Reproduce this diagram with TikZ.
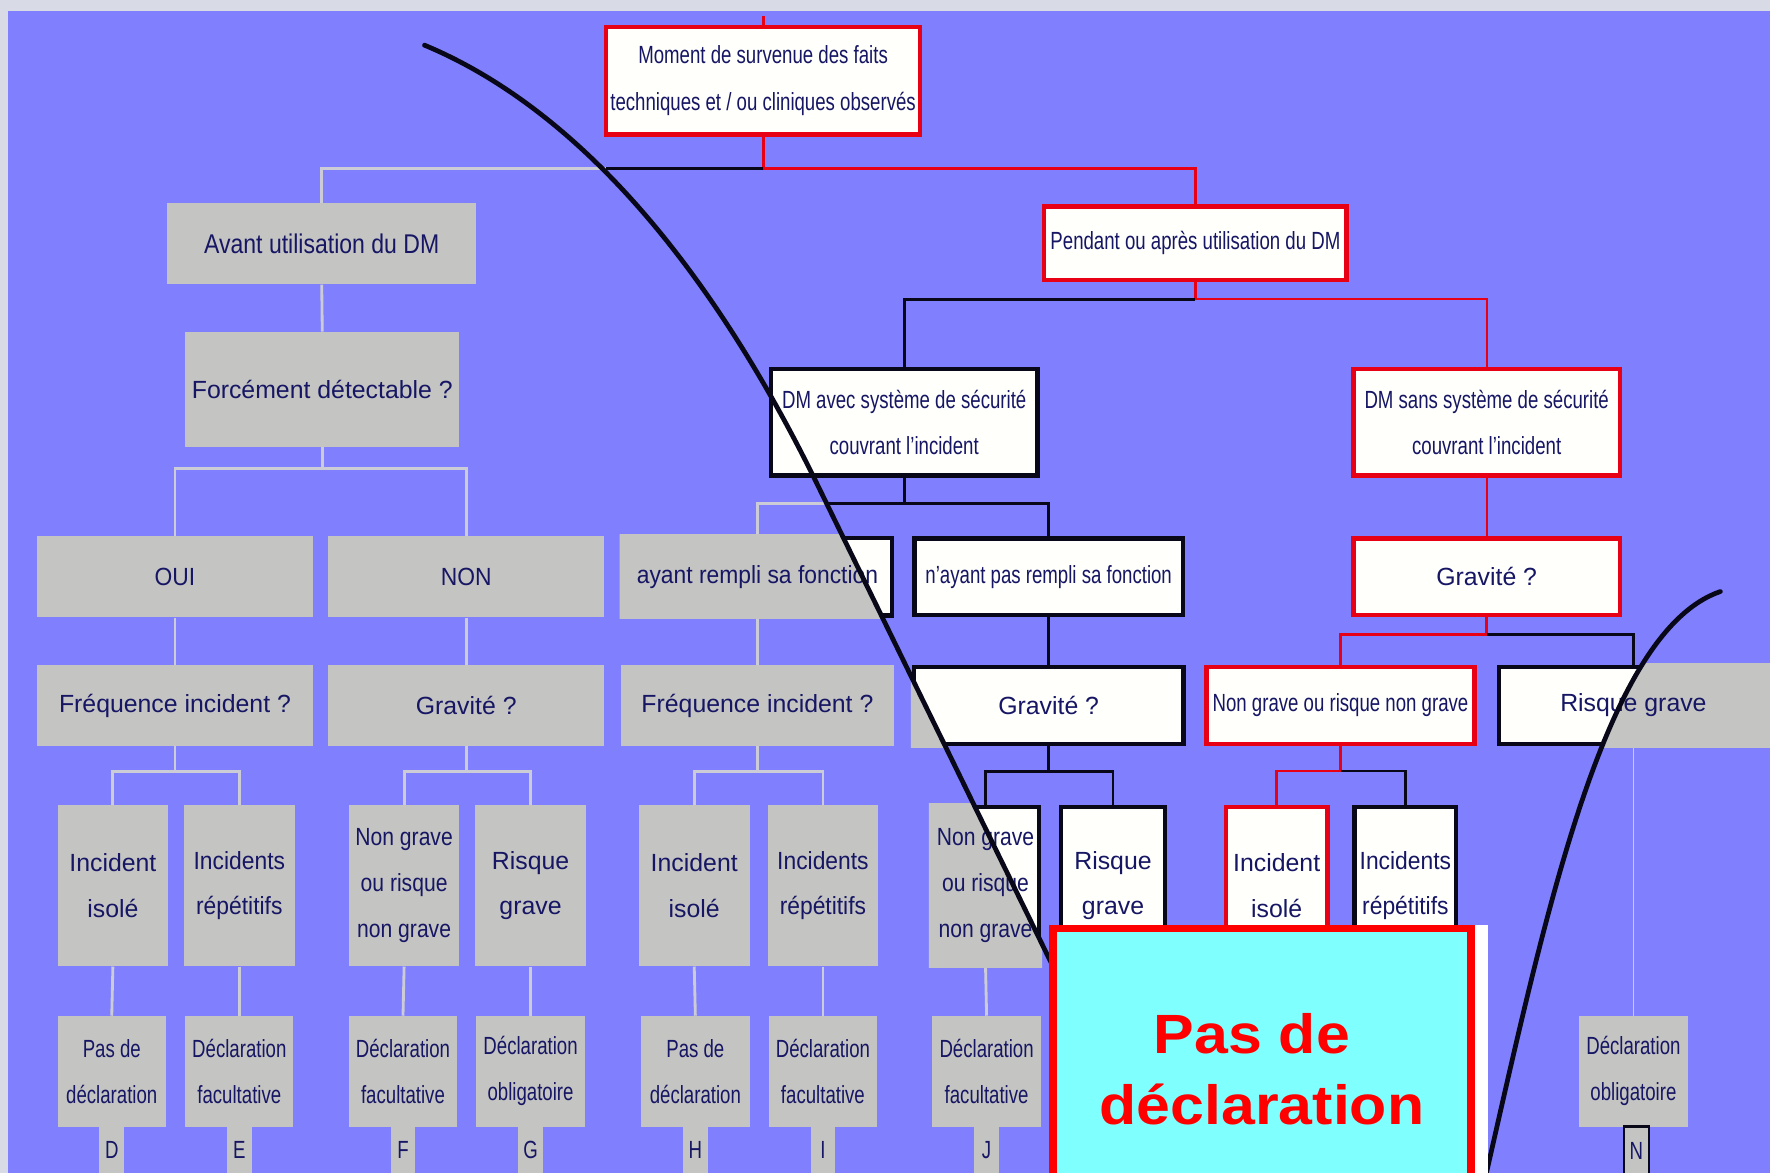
\documentclass[tikz,border=0pt]{standalone}
\usepackage{fontspec}
\setmainfont{Liberation Sans}
\newfontfamily\condA[FakeStretch=0.75]{Liberation Sans}
\newfontfamily\condB[FakeStretch=0.85]{Liberation Sans}
\newfontfamily\condC[FakeStretch=0.92]{Liberation Sans}
\newfontfamily\wideBold[FakeStretch=1.1]{Liberation Sans}
\usetikzlibrary{calc}

\definecolor{bgpurple}{RGB}{128,128,255}
\definecolor{framegray}{RGB}{216,219,230}
\definecolor{framelight}{RGB}{242,242,246}
\definecolor{boxgray}{RGB}{196,196,194}
\definecolor{linegray}{RGB}{204,204,214}
\definecolor{navy}{RGB}{22,22,100}
\definecolor{alertred}{RGB}{232,0,20}
\definecolor{inkblack}{RGB}{8,8,24}
\definecolor{aqua}{RGB}{128,255,255}
\definecolor{paper}{RGB}{255,255,252}

\pgfdeclarelayer{bg}
\pgfdeclarelayer{shapes}
\pgfdeclarelayer{curve}
\pgfdeclarelayer{top}
\pgfsetlayers{bg,shapes,main,curve,top}

% grey region on the left of the dividing curve
\newcommand\leftmask{\fill[boxgray] (376,-20) -- (376,40) .. controls (520,100) and (636,250) .. (722,425) -- (1030,1055) -- (-20,1055) -- (-20,-20) -- cycle;}
% grey region on the right of the dividing curve
\newcommand\rightmask{\fill[boxgray] (1312,1060) .. controls (1368,815) and (1420,560) .. (1524,524) -- (1600,524) -- (1600,1060) -- cycle;}
% white box with black border, greyed where the curve cuts it
\newcommand\maskedbox[2]{%
  \fill[paper] (#1.north west) rectangle (#1.south east);
  \draw[inkblack, line width=4pt] (#1.north west) rectangle (#1.south east);
  \begin{scope}
    \clip ([shift={(-3,-3)}]#1.north west) rectangle ([shift={(3,3)}]#1.south east);
    #2
  \end{scope}}

\begin{document}
\begin{tikzpicture}[x=1pt, y=-1pt,
  base/.style={inner sep=0pt, text=navy, align=center},
  fA/.style={font=\condA\fontsize{22}{40.5}\selectfont},
  fB/.style={font=\condB\fontsize{22}{40.5}\selectfont},
  fC/.style={font=\condC\fontsize{22}{40.5}\selectfont},
  fR/.style={font=\fontsize{22}{40.5}\selectfont},
  gbox/.style={base, fill=boxgray},
  kbox/.style={base, fill=paper, draw=inkblack, line width=4pt},
  rbox/.style={base, fill=paper, draw=alertred, line width=4pt},
  tbox/.style={base},
  sz/.style 2 args={minimum width=#1, minimum height=#2},
  letter/.style={gbox, fA, minimum width=22, minimum height=44},
  gline/.style={draw=linegray, line width=2.5pt},
  kline/.style={draw=inkblack, line width=2.5pt},
  rline/.style={draw=alertred, line width=2.5pt},
  curveline/.style={draw=inkblack, line width=4.2pt, line cap=round},
]
\useasboundingbox (0,0) rectangle (1568,1039);

\begin{pgfonlayer}{bg}
  \shade[left color=framegray, middle color=framelight, right color=framegray] (0,0) rectangle (1568,1039);
  \fill[bgpurple] (7,10) rectangle (1568,1039);
\end{pgfonlayer}

% ---------- top levels
\node[rbox, sz={278}{95}, font=\condA\fontsize{22}{42}\selectfont] (moment) at (676,71.5)
  {Moment de survenue des faits\\techniques et / ou cliniques observés};
\node[gbox, sz={274}{72}, font=\condB\fontsize{24}{40}\selectfont] (avant) at (285,216) {Avant utilisation du DM};
\node[rbox, fA, sz={268}{65}] (pendant) at (1059,215.5) {Pendant ou après utilisation du DM};

% ---------- branch: before use
\node[gbox, fR, sz={243}{102}] (forc) at (285.5,345) {Forcément détectable ?};
\node[gbox, fC, sz={244}{72}] (oui) at (155,511) {OUI};
\node[gbox, fC, sz={244}{72}] (non) at (413,511) {NON};
\node[gbox, fR, sz={244}{72}] (freqL) at (155,625) {Fréquence incident ?};
\node[gbox, fR, sz={244}{72}] (gravL) at (413,625) {Gravité ?};
\node[gbox, fR, sz={98}{143}] (incL1) at (100,784.5) {Incident\\isolé};
\node[gbox, fC, sz={98}{143}] (incL2) at (212,784.5) {Incidents\\répétitifs};
\node[gbox, fB, sz={98}{143}] (ngL) at (358,784.5) {Non grave\\ou risque\\non grave};
\node[gbox, fR, sz={98}{143}] (rgL) at (470,784.5) {Risque\\grave};
\node[gbox, fA, sz={96}{98}] (pasL) at (99,949) {Pas de\\déclaration};
\node[gbox, fA, sz={96}{98}] (facL) at (212,949) {Déclaration\\facultative};
\node[gbox, fA, sz={96}{98}] (facF) at (357,949) {Déclaration\\facultative};
\node[gbox, fA, sz={96}{98}] (oblG) at (470,949) {Déclaration\\obligatoire};

% ---------- branch: with safety system
\node[kbox, fA, sz={236}{94}] (dmavec) at (801,374) {DM avec système de sécurité\\couvrant l’incident};
\node[tbox, fC, sz={238}{68}] (ayant) at (671,511) {ayant rempli sa fonction};
\node[kbox, fA, sz={238}{68}] (nayant) at (929,511) {n’ayant pas rempli sa fonction};
\node[gbox, fR, sz={242}{72}] (freqM) at (671,625) {Fréquence incident ?};
\node[tbox, fR, sz={238}{68}] (gravM) at (929,625) {Gravité ?};
\node[gbox, fR, sz={98}{143}] (incM1) at (615,784.5) {Incident\\isolé};
\node[gbox, fC, sz={98}{143}] (incM2) at (729,784.5) {Incidents\\répétitifs};
\node[tbox, fB, sz={94}{139}] (ngM) at (873,784.5) {Non grave\\ou risque\\non grave};
\node[kbox, fR, sz={92}{139}] (rgM) at (986,784.5) {Risque\\grave};
\node[gbox, fA, sz={96}{98}] (pasM) at (616,949) {Pas de\\déclaration};
\node[gbox, fA, sz={96}{98}] (facM) at (729,949) {Déclaration\\facultative};
\node[gbox, fA, sz={96}{98}] (facJ) at (874,949) {Déclaration\\facultative};

% ---------- branch: without safety system
\node[rbox, fA, sz={236}{94}] (dmsans) at (1317,374) {DM sans système de sécurité\\couvrant l’incident};
\node[rbox, fR, sz={236}{68}] (gravR) at (1317,511) {Gravité ?};
\node[rbox, fA, sz={237}{68}] (ngR) at (1187.5,625) {Non grave ou risque non grave};
\node[tbox, fR, sz={238}{68}] (rgR) at (1447,625) {Risque grave};
\node[rbox, fR, sz={90}{139}] (incR1) at (1131,784.5) {Incident\\isolé};
\node[kbox, fC, sz={90}{139}] (incR2) at (1245,784.5) {Incidents\\répétitifs};
\node[gbox, fA, sz={96}{98}] (oblN) at (1447,949) {Déclaration\\obligatoire};

% ---------- outcome letters
\node[letter] (lD) at (99,1019) {D};
\node[letter] (lE) at (212,1019) {E};
\node[letter] (lF) at (357,1019) {F};
\node[letter] (lG) at (470,1019) {G};
\node[letter] (lH) at (616,1019) {H};
\node[letter] (lI) at (729,1019) {I};
\node[letter] (lJ) at (874,1019) {J};
\node[letter, draw=inkblack, line width=2pt, minimum width=22] (lN) at (1449.5,1020) {N};

% ---------- connectors and cut boxes
\begin{pgfonlayer}{shapes}
  \draw[rline] (moment.north) -- ++(0,-8);
  \draw[rline] (moment.south) -- ++(0,28) coordinate (j0);
  \coordinate (cut0) at (537,149);
  \draw[rline] (j0) -| (pendant.north);
  \draw[kline] (j0) -- (cut0);
  \draw[gline] (cut0) -| (avant.north);

  \draw[gline] (avant.south) -- (forc.north);
  \draw[gline] (forc.south) -- ++(0,19) coordinate (j1);
  \draw[gline] (oui.north) |- (j1) -| (non.north);
  \draw[gline] (oui.south) -- (freqL.north);
  \draw[gline] (non.south) -- (gravL.north);
  \draw[gline] (freqL.south) -- ++(0,22) coordinate (j2);
  \draw[gline] (incL1.north) |- (j2) -| (incL2.north);
  \draw[gline] (gravL.south) -- ++(0,22) coordinate (j3);
  \draw[gline] (ngL.north) |- (j3) -| (rgL.north);
  \draw[gline] (incL1.south) -- (pasL.north);
  \draw[gline] (incL2.south) -- (facL.north);
  \draw[gline] (ngL.south) -- (facF.north);
  \draw[gline] (rgL.south) -- (oblG.north);

  \draw[rline] (pendant.south) -- ++(0,15) coordinate (j4);
  \draw[kline] (j4) -| (dmavec.north);
  \draw[rline, line width=2pt] (j4) -| (dmsans.north);

  \draw[kline] (dmavec.south) -- ++(0,23) coordinate (j5);
  \coordinate (cut1) at (733,446);
  \draw[kline] (j5) -| (nayant.north);
  \draw[kline] (j5) -- (cut1);
  \draw[gline] (cut1) -| (ayant.north);
  \draw[gline] (ayant.south) -- (freqM.north);
  \draw[kline] (nayant.south) -- (gravM.north);
  \draw[gline] (freqM.south) -- ++(0,22) coordinate (j6);
  \draw[gline] (incM1.north) |- (j6) -| (incM2.north);
  \draw[kline] (gravM.south) -- ++(0,24) coordinate (j7);
  \draw[kline] (ngM.north) |- (j7) -| (rgM.north);
  \draw[gline] (incM1.south) -- (pasM.north);
  \draw[gline] (incM2.south) -- (facM.north);
  \draw[gline] (ngM.south) -- (facJ.north);

  \draw[rline, line width=2pt] (dmsans.south) -- (gravR.north);
  \draw[rline] (gravR.south) -- ++(0,15) coordinate (j8);
  \draw[rline] (j8) -| (ngR.north);
  \draw[kline, line width=2pt] (j8) -| (rgR.north);
  \draw[rline] (ngR.south) -- ++(0,22) coordinate (j9);
  \draw[rline] (j9) -| (incR1.north);
  \draw[kline] (j9) -| (incR2.north);
  \draw[gline, line width=1.5pt] (rgR.south) -- (oblN.north);

  \maskedbox{ayant}{\leftmask}
  \maskedbox{gravM}{\leftmask}
  \maskedbox{ngM}{\leftmask}
  \maskedbox{rgR}{\rightmask}
\end{pgfonlayer}

% ---------- dividing curve
\begin{pgfonlayer}{curve}
  \draw[curveline] (376,40) .. controls (520,100) and (636,250) .. (722,425) -- (1030,1055);
  \draw[curveline] (1312,1060) .. controls (1368,815) and (1420,560) .. (1524,524);
\end{pgfonlayer}

% ---------- conclusion panel
\begin{pgfonlayer}{top}
  \node[draw=red, line width=7pt, fill=aqua, inner sep=0pt, align=center, text=red,
        minimum width=371, minimum height=249,
        font=\wideBold\bfseries\fontsize{49}{63}\selectfont] (pasdecl) at (1118,947) {Pas de\hspace*{18pt}\\déclaration};
  \fill[white] (pasdecl.north east) rectangle ++(11,240);
\end{pgfonlayer}
\end{tikzpicture}
\end{document}
